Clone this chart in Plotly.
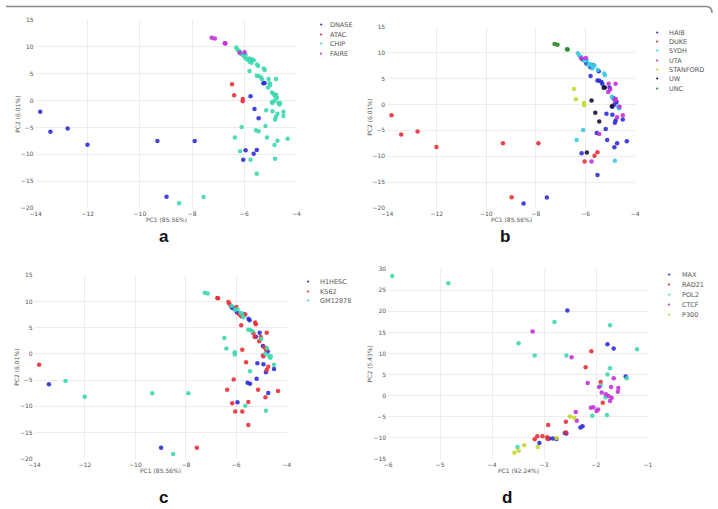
import plotly.graph_objects as go

W, H = 718, 509

# ---------------- Panels a-c: same PCA coordinates, different groupings ----------------
assay_cats = ["DNASE", "ATAC", "CHIP", "FAIRE"]
lab_cats = ["HAIB", "DUKE", "SYDH", "UTA", "STANFORD", "UW", "UNC"]
cell_cats = ["H1HESC", "K562", "GM12878"]

dnase_pc1 = [-13.82, -13.43, -12.77, -12.01, -9.33, -7.90, -8.98, -5.76, -5.61, -5.45, -5.27, -5.22, -5.95, -5.52, -5.64, -6.04]
dnase_pc2 = [-2.1, -5.8, -5.2, -8.2, -7.5, -7.5, -17.9, 0.77, -1.6, -3.3, 3.2, 3.25, -9.25, -9.2, -9.9, -11.0]
dnase_lab = ["DUKE", "DUKE", "DUKE", "DUKE", "DUKE", "DUKE", "DUKE", "UW", "UW", "UW", "UW", "UW", "UW", "DUKE", "DUKE", "DUKE"]
dnase_cell = ["K562", "H1HESC", "GM12878", "GM12878", "GM12878", "GM12878", "H1HESC", "K562", "K562", "GM12878",
              "K562", "H1HESC", "H1HESC", "K562", "GM12878", "K562"]

atac_pc1 = [-6.47, -6.39, -6.06, -6.06]
atac_pc2 = [3.0, 1.0, 0.3, -0.15]
atac_lab = ["STANFORD", "STANFORD", "STANFORD", "STANFORD"]
atac_cell = ["GM12878", "GM12878", "GM12878", "GM12878"]

faire_pc1 = [-7.25, -7.13, -6.75, -6.72, -6.18, -5.99]
faire_pc2 = [11.64, 11.52, 10.66, 10.60, 8.89, 8.95]
faire_lab = ["UNC", "UNC", "UNC", "UNC", "UTA", "UTA"]
faire_cell = ["GM12878", "GM12878", "K562", "K562", "H1HESC", "K562"]

chip_pc1 = [-6.31, -6.26, -6.18, -6.13, -6.05, -5.95, -5.97, -5.89, -5.82, -5.76,
            -5.70, -5.64, -5.80, -5.72, -5.51, -5.47, -5.25, -5.22, -5.80, -5.52,
            -5.45, -5.36, -5.32, -5.07, -5.03, -4.79, -5.09, -5.01, -4.94, -4.88,
            -4.82, -4.78, -4.75, -4.84, -4.94, -4.65, -4.69, -4.63, -4.92,
            -5.16, -4.92, -4.79, -4.82, -4.73, -4.50, -4.50, -5.19, -5.55, -5.45,
            -6.10, -6.36, -5.13, -4.73, -4.84, -4.34, -6.16, -5.76, -4.82, -5.52,
            -8.50, -7.56]
chip_pc2 = [9.87, 9.44, 9.14, 8.71, 8.40, 8.52, 7.91, 7.61, 7.79, 7.61,
            7.61, 7.49, 7.18, 7.00, 6.69, 6.39, 5.96, 5.65, 5.47, 4.61,
            4.55, 4.31, 3.94, 4.00, 3.21, 4.00, 2.42, 2.90, 1.50, 1.26,
            0.77, 1.07, 0.46, -0.03, -0.33, -0.76, -0.45, -0.45, -0.45,
            -1.80, -1.98, -3.08, -3.51, -2.47, -2.10, -2.90, -4.73, -5.53, -5.71,
            -4.91, -6.87, -6.87, -7.48, -8.27, -7.11, -9.43, -11.02, -10.84, -13.59,
            -19.09, -17.93]
chip_lab = ["SYDH", "SYDH", "SYDH", "HAIB", "SYDH", "SYDH", "HAIB", "SYDH", "SYDH", "SYDH",
            "HAIB", "SYDH", "HAIB", "SYDH", "SYDH", "HAIB", "SYDH", "SYDH", "HAIB", "HAIB",
            "HAIB", "HAIB", "HAIB", "UTA", "HAIB", "UTA", "UTA", "UTA", "SYDH", "HAIB",
            "UTA", "UTA", "HAIB", "HAIB", "UW", "SYDH", "SYDH", "UTA", "HAIB",
            "HAIB", "HAIB", "HAIB", "HAIB", "UTA", "UTA", "HAIB", "HAIB", "HAIB", "UTA",
            "SYDH", "SYDH", "HAIB", "HAIB", "HAIB", "HAIB", "HAIB", "UTA", "SYDH", "HAIB",
            "HAIB", "HAIB"]
chip_cell = ["K562", "K562", "GM12878", "H1HESC", "GM12878", "GM12878", "H1HESC", "K562", "GM12878", "GM12878",
             "H1HESC", "K562", "K562", "GM12878", "H1HESC", "H1HESC", "K562", "K562", "K562", "GM12878",
             "GM12878", "GM12878", "K562", "H1HESC", "K562", "K562", "K562", "GM12878", "H1HESC", "K562",
             "K562", "GM12878", "H1HESC", "GM12878", "K562", "GM12878", "GM12878", "GM12878", "K562",
             "H1HESC", "H1HESC", "K562", "H1HESC", "K562", "GM12878", "H1HESC", "H1HESC", "H1HESC", "H1HESC",
             "K562", "K562", "K562", "H1HESC", "K562", "K562", "K562", "K562", "GM12878", "K562",
             "GM12878", "K562"]

# ---------------- Panel d ----------------
tf_cats = ["MAX", "RAD21", "POL2", "CTCF", "P300"]
max_pc1 = [-2.55, -1.78, -1.66, -1.43, -3.09, -2.90, -2.83, -2.76, -2.60, -2.57, -2.30, -2.26]
max_pc2 = [20.2, 12.2, 11.2, 4.5, -11.3, -10.2, -10.2, -10.3, -8.9, -9.0, -7.6, -7.3]
rad21_pc1 = [-2.09, -2.20, -1.91, -1.87, -2.92, -2.58, -3.18, -3.13, -3.03, -2.94, -2.93, -2.58]
rad21_pc2 = [10.5, 6.7, 3.2, -1.7, -7.0, -6.2, -10.4, -9.7, -9.7, -9.9, -10.3, -8.8]
pol2_pc1 = [-5.92, -4.84, -2.80, -1.73, -3.49, -3.18, -2.57, -1.21, -1.73, -1.78, -1.91, -1.82, -1.79, -2.07, -1.41, -3.51]
pol2_pc2 = [28.4, 26.7, 17.5, 16.7, 12.4, 9.5, 9.5, 11.0, 6.5, 5.0, 2.4, -0.4, -4.6, -4.8, 4.1, -12.2]
ctcf_pc1 = [-3.22, -2.47, -2.16, -1.94, -1.89, -1.81, -1.76, -1.70, -1.73, -1.66, -1.71, -1.57, -1.58, -2.10, -2.05, -1.99, -1.96, -2.39, -2.37]
ctcf_pc2 = [15.2, 9.1, 3.0, 2.0, 0.7, 0.3, -0.1, -0.5, -1.3, 4.1, 2.0, 1.8, 0.9, -2.9, -2.8, -3.7, -3.3, -3.9, -6.0]
p300_pc1 = [-3.57, -3.49, -3.38, -3.12, -2.76, -2.50, -2.42]
p300_pc2 = [-13.6, -13.1, -11.8, -12.2, -10.1, -5.0, -5.3]

# ---------------- styles ----------------
BLUE, RED, TURQ, CYAN = "#2e2ed8", "#e8303a", "#3dd8b0", "#3ccbe0"
MAG, YEL, DARK, GREEN = "#c232d6", "#c8d82a", "#141438", "#2a8a2a"
assay_col = {"DNASE": BLUE, "ATAC": RED, "CHIP": TURQ, "FAIRE": MAG}
lab_col = {"HAIB": BLUE, "DUKE": RED, "SYDH": CYAN, "UTA": MAG, "STANFORD": YEL, "UW": DARK, "UNC": GREEN}
cell_col = {"H1HESC": BLUE, "K562": RED, "GM12878": TURQ}
tf_col = {"MAX": BLUE, "RAD21": RED, "POL2": TURQ, "CTCF": MAG, "P300": YEL}

all_pc1 = dnase_pc1 + atac_pc1 + chip_pc1 + faire_pc1
all_pc2 = dnase_pc2 + atac_pc2 + chip_pc2 + faire_pc2
all_assay = (["DNASE"] * len(dnase_pc1) + ["ATAC"] * len(atac_pc1)
             + ["CHIP"] * len(chip_pc1) + ["FAIRE"] * len(faire_pc1))
all_lab = dnase_lab + atac_lab + chip_lab + faire_lab
all_cell = dnase_cell + atac_cell + chip_cell + faire_cell

fig = go.Figure()
MS = 4.5


def add_group(xs, ys, color, xa, ya):
    fig.add_trace(go.Scatter(x=xs, y=ys, mode="markers", xaxis=xa, yaxis=ya,
                             marker=dict(size=MS, color=color, opacity=0.9, line=dict(width=0)),
                             showlegend=False, hoverinfo="skip"))


for cats, labels, cmap, xa, ya in [(assay_cats, all_assay, assay_col, "x", "y"),
                                   (lab_cats, all_lab, lab_col, "x2", "y2"),
                                   (cell_cats, all_cell, cell_col, "x3", "y3")]:
    for c in cats:
        xs = [p for p, l in zip(all_pc1, labels) if l == c]
        ys = [p for p, l in zip(all_pc2, labels) if l == c]
        add_group(xs, ys, cmap[c], xa, ya)

for c, xs, ys in [("MAX", max_pc1, max_pc2), ("RAD21", rad21_pc1, rad21_pc2), ("POL2", pol2_pc1, pol2_pc2),
                  ("CTCF", ctcf_pc1, ctcf_pc2), ("P300", p300_pc1, p300_pc2)]:
    add_group(xs, ys, tf_col[c], "x4", "y4")


def px_x(p):
    return p / W


def px_y(p):
    return 1 - p / H


FONT = "DejaVu Sans"
GREY = "#555"
tickfont = dict(family=FONT, size=6, color=GREY)
titlefont = dict(family=FONT, size=6, color=GREY)


def axis(dom, rng, dtick, anchor):
    return dict(domain=dom, range=rng, dtick=dtick, anchor=anchor, showgrid=True, gridcolor="#ececec",
                gridwidth=1, zeroline=False, showline=False, ticks="", ticklabelstandoff=1,
                tickfont=tickfont)


# panel rectangles in pixels: (left, right, top, bottom)
pa = (30, 295, 16, 207)
pb = (387, 639, 23, 207)
pc = (29, 285, 275, 461)
pd = (388, 652, 269, 461)

annotations = []
layout = dict(width=W, height=H, margin=dict(l=0, r=0, t=0, b=0),
              paper_bgcolor="white", plot_bgcolor="white", showlegend=False)
for i, (rect, xr, xd, yr, yd, xt, yt) in enumerate([
        (pa, [-14, -4], 2, [-20, 15], 5, "PC1 (85.56%)", "PC2 (6.01%)"),
        (pb, [-14, -4], 2, [-20, 15], 5, "PC1 (85.56%)", "PC2 (6.01%)"),
        (pc, [-14, -4], 2, [-20, 15], 5, "PC1 (85.56%)", "PC2 (6.01%)"),
        (pd, [-6, -1], 1, [-15, 30], 5, "PC1 (92.24%)", "PC2 (5.43%)")]):
    sfx = "" if i == 0 else str(i + 1)
    l, r, t, b = rect
    layout["xaxis" + sfx] = axis([px_x(l), px_x(r)], xr, xd, "y" + sfx)
    layout["yaxis" + sfx] = axis([px_y(b), px_y(t)], yr, yd, "x" + sfx)
    annotations.append(dict(xref="paper", yref="paper", x=px_x((l + r) / 2), y=px_y(b + 12), text=xt,
                            showarrow=False, xanchor="center", yanchor="middle", font=titlefont))
    annotations.append(dict(xref="paper", yref="paper", x=px_x(l - 18), y=px_y((t + b) / 2), text=yt,
                            showarrow=False, xanchor="center", yanchor="middle", textangle=-90, font=titlefont))


def legend(cats, cmap, mx, tx, y0, dy):
    for k, c in enumerate(cats):
        yy = y0 + k * dy
        annotations.append(dict(xref="paper", yref="paper", x=px_x(mx), y=px_y(yy), text="•",
                                showarrow=False, xanchor="center", yanchor="middle",
                                font=dict(family=FONT, size=7, color=cmap[c])))
        annotations.append(dict(xref="paper", yref="paper", x=px_x(tx), y=px_y(yy), text=c,
                                showarrow=False, xanchor="left", yanchor="middle",
                                font=dict(family=FONT, size=6.5, color=GREY)))


legend(assay_cats, assay_col, 320, 327, 21, 10)
legend(lab_cats, lab_col, 661, 671, 29, 9.5)
legend(cell_cats, cell_col, 307, 317, 282, 9.6)
legend(tf_cats, tf_col, 673, 684, 275, 10)

for lbl, x, y in [("a", 160, 236), ("b", 507, 236), ("c", 160, 500), ("d", 509, 500)]:
    annotations.append(dict(xref="paper", yref="paper", x=px_x(x), y=px_y(y), text="<b>%s</b>" % lbl,
                            showarrow=False, xanchor="center", yanchor="middle",
                            font=dict(family="Liberation Sans", size=17, color="#111")))

layout["annotations"] = annotations
layout["shapes"] = [dict(type="path", xref="paper", yref="paper",
                         path="M 0 %f L %f %f Q %f %f %f %f" % (px_y(2.5), px_x(711), px_y(2.5),
                                                                 px_x(717), px_y(2.5), px_x(717), px_y(9)),
                         line=dict(color="#8a8a8a", width=1.5))]
fig.update_layout(**layout)
fig.write_html("out.html")
